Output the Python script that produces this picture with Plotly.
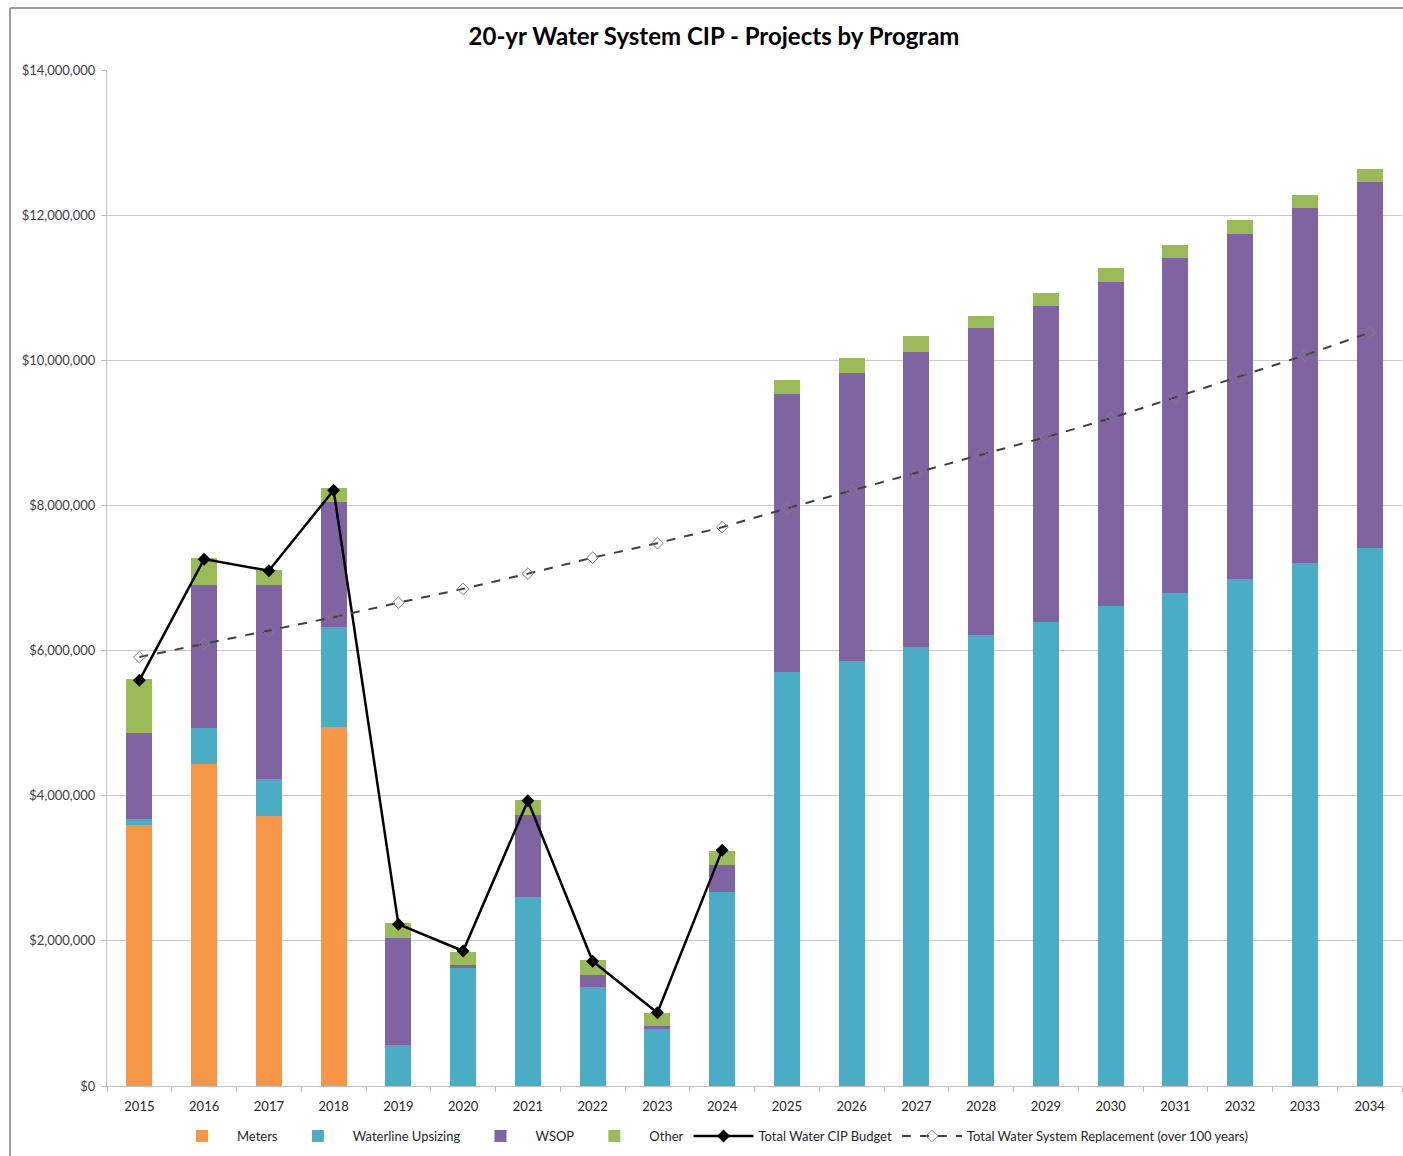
import plotly.graph_objects as go

# ---- data (USD) ----
years = [str(y) for y in range(2015, 2035)]

meters = [3.60e6, 4.44e6, 3.72e6, 4.95e6, 0, 0, 0, 0, 0, 0,
          0, 0, 0, 0, 0, 0, 0, 0, 0, 0]
waterline = [0.08e6, 0.49e6, 0.51e6, 1.38e6, 0.565e6, 1.62e6, 2.60e6, 1.36e6, 0.78e6, 2.68e6,
             5.71e6, 5.85e6, 6.05e6, 6.21e6, 6.40e6, 6.61e6, 6.79e6, 6.99e6, 7.21e6, 7.42e6]
wsop = [1.18e6, 1.97e6, 2.67e6, 1.72e6, 1.475e6, 0.05e6, 1.13e6, 0.17e6, 0.05e6, 0.37e6,
        3.83e6, 3.97e6, 4.07e6, 4.24e6, 4.35e6, 4.47e6, 4.62e6, 4.75e6, 4.89e6, 5.04e6]
other = [0.75e6, 0.38e6, 0.21e6, 0.19e6, 0.20e6, 0.18e6, 0.21e6, 0.21e6, 0.17e6, 0.19e6,
         0.19e6, 0.21e6, 0.21e6, 0.16e6, 0.18e6, 0.19e6, 0.18e6, 0.19e6, 0.18e6, 0.18e6]
cip_budget = [5.59e6, 7.26e6, 7.10e6, 8.21e6, 2.23e6, 1.86e6, 3.93e6, 1.72e6, 1.01e6, 3.25e6,
              None, None, None, None, None, None, None, None, None, None]
replacement = [5.91e6, 6.09e6, 6.27e6, 6.46e6, 6.66e6, 6.85e6, 7.06e6, 7.28e6, 7.48e6, 7.70e6,
               7.96e6, 8.20e6, 8.45e6, 8.70e6, 8.94e6, 9.20e6, 9.49e6, 9.78e6, 10.07e6, 10.38e6]

y_ticks = [0, 2e6, 4e6, 6e6, 8e6, 10e6, 12e6, 14e6]
y_tick_text = ["$0", "$2,000,000", "$4,000,000", "$6,000,000", "$8,000,000",
               "$10,000,000", "$12,000,000", "$14,000,000"]

# ---- page geometry ----
W, H = 1403, 1156
M_L, M_R, M_T, M_B = 107, 1, 70, 70
PW, PH = W - M_L - M_R, H - M_T - M_B


def px_x(x):
    return (x - M_L) / PW


def px_y(y):
    return (H - M_B - y) / PH


FONT = "Lato, 'Open Sans', sans-serif"

fig = go.Figure()
bar_specs = [
    ("Meters", meters, "#F79646"),
    ("Waterline Upsizing", waterline, "#4BACC6"),
    ("WSOP", wsop, "#8064A2"),
    ("Other", other, "#9BBB59"),
]
for name, vals, col in bar_specs:
    fig.add_trace(go.Bar(x=years, y=vals, name=name, marker=dict(color=col, line_width=0)))

fig.add_trace(go.Scatter(
    x=years, y=cip_budget, name="Total Water CIP Budget", mode="lines+markers",
    line=dict(color="#000000", width=2.5),
    marker=dict(symbol="diamond", size=10, color="#000000"),
))
fig.add_trace(go.Scatter(
    x=years, y=replacement, name="Total Water System Replacement (over 100 years)",
    mode="lines+markers",
    line=dict(color="#404040", width=2, dash="dash"),
    marker=dict(symbol="diamond-open", size=9, color="#808080", line=dict(width=1)),
))

fig.update_layout(
    width=W, height=H,
    margin=dict(l=M_L, r=M_R, t=M_T, b=M_B, pad=0),
    barmode="stack", bargap=0.6,
    paper_bgcolor="white", plot_bgcolor="white",
    font=dict(family=FONT, color="#404040", size=12),
    title=dict(
        text="<b>20-yr Water System CIP - Projects by Program</b>",
        x=714 / W, xanchor="center", y=1 - 37 / H, yanchor="middle",
        font=dict(family=FONT, size=24, color="#000000"),
    ),
    xaxis=dict(
        type="category", range=[-0.5, len(years) - 0.5],
        showgrid=False, showline=True, linecolor="#BFBFBF",
        ticks="outside", tickson="boundaries", ticklen=5, tickcolor="#BFBFBF",
        ticklabelstandoff=8,
        tickfont=dict(size=13, color="#262626"),
    ),
    yaxis=dict(
        range=[0, 14e6], tickvals=y_ticks, ticktext=y_tick_text,
        showgrid=True, gridcolor="#C8C8C8", gridwidth=1,
        showline=True, linecolor="#BFBFBF", zeroline=False,
        ticks="outside", ticklen=5, tickcolor="#BFBFBF",
        ticklabelstandoff=3,
        tickfont=dict(size=13, color="#404040"),
    ),
    legend=dict(
        orientation="h", x=px_x(710), xanchor="center", y=px_y(1136), yanchor="middle",
        font=dict(size=13, color="#262626"), traceorder="normal",
        itemwidth=60, bgcolor="rgba(0,0,0,0)",
    ),
    showlegend=True,
)

# outer frame of the chart box (left and top edges)
fig.add_shape(type="line", xref="paper", yref="paper",
              x0=px_x(10), x1=px_x(10), y0=px_y(8), y1=px_y(H),
              line=dict(color="#808080", width=1.5))
fig.add_shape(type="line", xref="paper", yref="paper",
              x0=px_x(10), x1=px_x(W), y0=px_y(8), y1=px_y(8),
              line=dict(color="#808080", width=1.5))

fig.write_html("out.html")
